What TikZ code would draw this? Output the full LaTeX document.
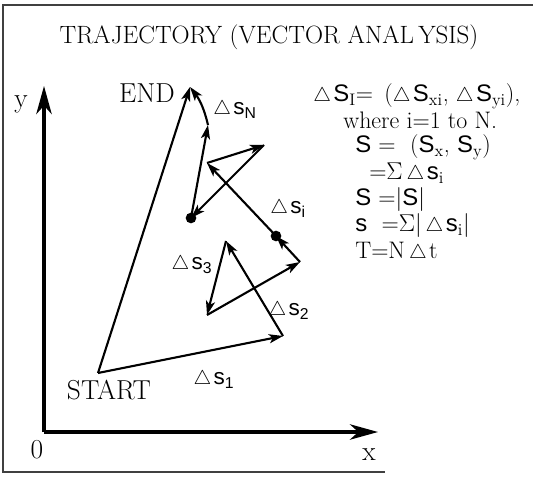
\documentclass[tikz,border=0pt]{standalone}
\usepackage{fontspec}
\setsansfont{Liberation Sans}
\usepackage{tikz}
\usetikzlibrary{arrows.meta}

\newcommand{\vs}[1]{{\sffamily #1}}
\newcommand{\dlt}{\scalebox{0.82}{$\triangle$}\kern0.1em}

\tikzset{
  frame/.style={line width=0.8pt, black!75},
  axis/.style={line width=2.2pt, -{Stealth[length=20pt, width=11pt, inset=6pt]}},
  vec/.style={line width=1.5pt, -{Stealth[length=10pt, width=6.5pt, inset=2.5pt]}},
  big/.style={font=\fontsize{19.5}{22}\selectfont},
  head/.style={font=\fontsize{17.8}{22}\selectfont},
  txt/.style={font=\fontsize{17}{20}\selectfont, anchor=west, inner sep=0pt},
  lbl/.style={font=\fontsize{16}{18}\selectfont, inner sep=0pt}
}

\begin{document}
\begin{tikzpicture}[x=0.025cm, y=-0.025cm]
    \useasboundingbox (0,0) rectangle (533,478);

    % Frame
    \draw[frame] (533,5) -- (3,5) -- (3,472) -- (385,472);
    \node[head] (title) at (269,37) {TRAJECTORY (VECTOR ANAL\,YSIS)};

    % Axes
    \coordinate (O) at (44,432);
    \coordinate (ytip) at (44,86);
    \coordinate (xtip) at (378,432);
    \draw[axis] (O) -- (ytip);
    \draw[axis] (O) -- (xtip);
    \node[big] (ylab) at (21,104) {y};
    \node[big] (xlab) at (369,455) {x};
    \node[big] (zero) at (37,450) {0};

    % Trajectory points
    \coordinate (p0) at (98,373);
    \coordinate (p1) at (283,336);
    \coordinate (p2) at (226,241);
    \coordinate (p3) at (207,315);
    \coordinate (p4) at (300,262);
    \coordinate (p5) at (276,236);
    \coordinate (p6) at (207,163);
    \coordinate (p7) at (264,145);
    \coordinate (p8) at (191,218);
    \coordinate (p9) at (208,125);
    \coordinate (pE) at (190,87);

    % Steps
    \draw[vec] (p0) -- (p1);
    \draw[vec] (p1) -- (p2);
    \draw[vec] (p2) -- (p3);
    \draw[vec] (p3) -- (p4);
    \draw[vec] (p4) -- (p5);
    \draw[vec] (p5) -- (p6);
    \draw[vec] (p6) -- (p7);
    \draw[vec] (p7) -- (p8);
    \draw[vec] (p8) -- (p9);
    \draw[vec] (p9) to[bend right=12] (pE);
    \draw[vec] (p0) -- (pE);
    \fill (p5) circle (3.8pt);
    \fill (p8) circle (3.8pt);

    % Labels
    \node[big] (start) at (109,390) {START};
    \node[big] (end) at (147,93) {END};
    \node[lbl] (ds1) at (214,380) {\dlt\vs{s}\textsubscript{\vs{1}}};
    \node[lbl] (ds2) at (289,311) {\dlt\vs{s}\textsubscript{\vs{2}}};
    \node[lbl] (ds3) at (192,265) {\dlt\vs{s}\textsubscript{\vs{3}}};
    \node[lbl] (dsi) at (288,209) {\dlt\vs{s}\textsubscript{\vs{i}}};
    \node[lbl] (dsN) at (235,110) {\dlt\vs{s}\textsubscript{\vs{N}}};

    % Definitions
    \node[txt] (def1) at (313,96) {\dlt\vs{S}\textsubscript{I}= \,(\dlt\vs{S}\textsubscript{xi}, \dlt\vs{S}\textsubscript{yi}),};
    \node[txt] (def2) at (343,120) {where i=1 to N.};
    \node[txt] (def3) at (355,147) {\vs{S} = \ (\vs{S}\textsubscript{x}, \vs{S}\textsubscript{y})};
    \node[txt] (def4) at (369,173) {=$\Sigma$\,\dlt\vs{s}\textsubscript{i}};
    \node[txt] (def5) at (355,200) {\vs{S} =|\vs{S}|};
    \node[txt] (def6) at (355,226) {\vs{s} \ =$\Sigma$|\,\dlt\vs{s}\textsubscript{i}|};
    \node[txt] (def7) at (355,252) {T=N\,\dlt t};
\end{tikzpicture}
\end{document}
